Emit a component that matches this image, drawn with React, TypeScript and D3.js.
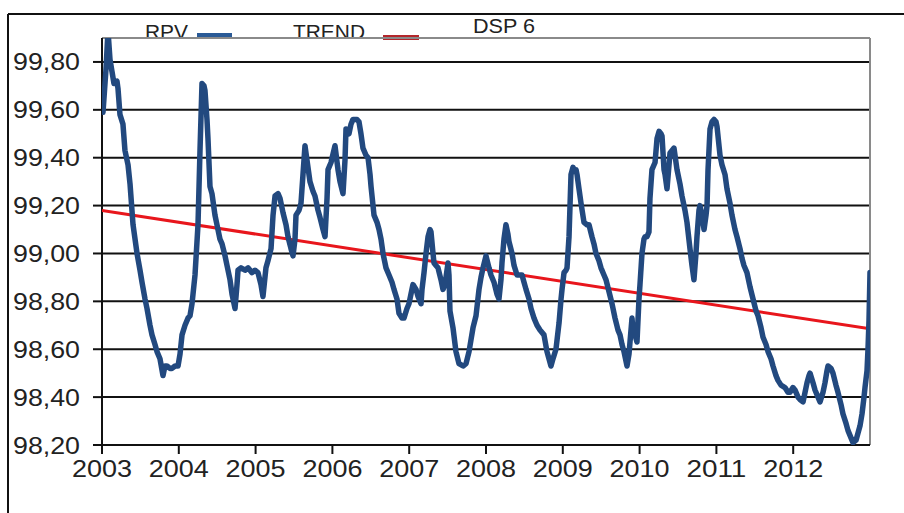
import React from "react";
import * as d3 from "d3";

// RPV series: fractional year, value
const rpvDates: number[] = [
  2003.013, 2003.052, 2003.078, 2003.104, 2003.13, 2003.156, 2003.195, 2003.208, 2003.234, 2003.273,
  2003.299, 2003.339, 2003.365, 2003.404, 2003.456, 2003.495, 2003.521, 2003.56, 2003.586, 2003.625,
  2003.651, 2003.69, 2003.716, 2003.755, 2003.794, 2003.82, 2003.846, 2003.885, 2003.911, 2003.951,
  2003.99, 2004.016, 2004.042, 2004.081, 2004.12, 2004.146, 2004.172, 2004.211, 2004.25, 2004.276,
  2004.302, 2004.328, 2004.341, 2004.367, 2004.38, 2004.406, 2004.432, 2004.471, 2004.497, 2004.536,
  2004.563, 2004.602, 2004.628, 2004.667, 2004.693, 2004.732, 2004.758, 2004.771, 2004.81, 2004.862,
  2004.901, 2004.953, 2004.992, 2005.031, 2005.07, 2005.096, 2005.135, 2005.161, 2005.201, 2005.227,
  2005.253, 2005.292, 2005.318, 2005.357, 2005.396, 2005.422, 2005.461, 2005.487, 2005.513, 2005.526,
  2005.565, 2005.591, 2005.617, 2005.643, 2005.669, 2005.708, 2005.747, 2005.773, 2005.813, 2005.839,
  2005.878, 2005.904, 2005.93, 2005.943, 2005.982, 2006.034, 2006.073, 2006.099, 2006.138, 2006.164,
  2006.177, 2006.216, 2006.242, 2006.268, 2006.294, 2006.32, 2006.346, 2006.372, 2006.398, 2006.438,
  2006.464, 2006.49, 2006.503, 2006.542, 2006.581, 2006.607, 2006.633, 2006.659, 2006.698, 2006.737,
  2006.776, 2006.802, 2006.841, 2006.867, 2006.906, 2006.932, 2006.971, 2006.997, 2007.023, 2007.049,
  2007.089, 2007.115, 2007.154, 2007.167, 2007.193, 2007.219, 2007.245, 2007.271, 2007.284, 2007.31,
  2007.323, 2007.349, 2007.375, 2007.414, 2007.44, 2007.466, 2007.505, 2007.518, 2007.531, 2007.57,
  2007.609, 2007.648, 2007.701, 2007.74, 2007.779, 2007.805, 2007.831, 2007.87, 2007.909, 2007.935,
  2007.961, 2008.0, 2008.039, 2008.065, 2008.104, 2008.143, 2008.169, 2008.195, 2008.208, 2008.234,
  2008.26, 2008.286, 2008.299, 2008.339, 2008.365, 2008.404, 2008.443, 2008.469, 2008.495, 2008.521,
  2008.56, 2008.586, 2008.625, 2008.664, 2008.703, 2008.755, 2008.794, 2008.82, 2008.846, 2008.872,
  2008.911, 2008.951, 2008.977, 2008.99, 2009.016, 2009.042, 2009.055, 2009.081, 2009.107, 2009.133,
  2009.146, 2009.172, 2009.185, 2009.211, 2009.237, 2009.276, 2009.315, 2009.341, 2009.38, 2009.406,
  2009.432, 2009.471, 2009.497, 2009.536, 2009.563, 2009.602, 2009.641, 2009.68, 2009.719, 2009.745,
  2009.771, 2009.797, 2009.836, 2009.862, 2009.875, 2009.901, 2009.914, 2009.94, 2009.966, 2009.992,
  2010.005, 2010.031, 2010.057, 2010.07, 2010.096, 2010.122, 2010.135, 2010.161, 2010.201, 2010.227,
  2010.253, 2010.279, 2010.292, 2010.318, 2010.331, 2010.357, 2010.383, 2010.396, 2010.422, 2010.448,
  2010.487, 2010.526, 2010.552, 2010.591, 2010.617, 2010.656, 2010.682, 2010.708, 2010.734, 2010.747,
  2010.773, 2010.786, 2010.813, 2010.839, 2010.865, 2010.878, 2010.891, 2010.917, 2010.943, 2010.969,
  2010.995, 2011.008, 2011.047, 2011.073, 2011.112, 2011.138, 2011.177, 2011.203, 2011.242, 2011.268,
  2011.307, 2011.333, 2011.359, 2011.398, 2011.438, 2011.477, 2011.516, 2011.542, 2011.581, 2011.607,
  2011.646, 2011.672, 2011.711, 2011.737, 2011.776, 2011.802, 2011.841, 2011.893, 2011.932, 2011.958,
  2011.997, 2012.023, 2012.063, 2012.089, 2012.128, 2012.154, 2012.18, 2012.206, 2012.219, 2012.258,
  2012.284, 2012.323, 2012.349, 2012.388, 2012.414, 2012.44, 2012.453, 2012.492, 2012.518, 2012.557,
  2012.583, 2012.622, 2012.648, 2012.688, 2012.714, 2012.753, 2012.779, 2012.818, 2012.844, 2012.87,
  2012.896, 2012.922, 2012.935, 2012.961, 2012.974, 2012.987, 2013.0,
];

const rpvValues: number[] = [
  99.59, 99.77, 99.93, 99.81, 99.76, 99.71, 99.72, 99.69, 99.58, 99.54,
  99.43, 99.37, 99.29, 99.12, 99.0, 98.93, 98.88, 98.81, 98.77, 98.7,
  98.66, 98.62, 98.59, 98.56, 98.49, 98.53, 98.53, 98.52, 98.52, 98.53,
  98.53, 98.58, 98.66, 98.7, 98.73, 98.74, 98.79, 98.91, 99.12, 99.43,
  99.71, 99.7, 99.68, 99.56, 99.48, 99.28, 99.25, 99.16, 99.12, 99.06,
  99.04, 98.99, 98.95, 98.89, 98.83, 98.77, 98.87, 98.93, 98.94, 98.93,
  98.94, 98.92, 98.93, 98.92, 98.87, 98.82, 98.94, 98.97, 99.02, 99.16,
  99.24, 99.25, 99.23, 99.17, 99.12, 99.07, 99.02, 98.99, 99.06, 99.16,
  99.18, 99.21, 99.33, 99.45, 99.39, 99.3, 99.26, 99.24, 99.18, 99.15,
  99.1, 99.07, 99.23, 99.35, 99.38, 99.45, 99.35, 99.3, 99.25, 99.39,
  99.52, 99.5, 99.54, 99.56, 99.56, 99.56, 99.55, 99.5, 99.44, 99.41,
  99.4, 99.33, 99.28, 99.16, 99.13, 99.1, 99.06, 99.0, 98.94, 98.91,
  98.88, 98.85, 98.81, 98.75, 98.73, 98.73, 98.77, 98.79, 98.83, 98.87,
  98.85, 98.82, 98.79, 98.85, 98.92, 99.0, 99.07, 99.1, 99.09, 99.0,
  98.96, 98.95, 98.94, 98.89, 98.85, 98.87, 98.96, 98.91, 98.76, 98.69,
  98.59, 98.54, 98.53, 98.54, 98.59, 98.64, 98.69, 98.74, 98.85, 98.9,
  98.94, 98.99, 98.94, 98.91, 98.88, 98.83, 98.81, 98.89, 98.96, 99.06,
  99.12, 99.08, 99.05, 99.0, 98.95, 98.91, 98.91, 98.91, 98.88, 98.85,
  98.81, 98.77, 98.73, 98.7, 98.68, 98.66, 98.59, 98.56, 98.53, 98.56,
  98.6, 98.71, 98.81, 98.85, 98.92, 98.93, 98.94, 99.07, 99.33, 99.36,
  99.35, 99.35, 99.33, 99.27, 99.21, 99.13, 99.12, 99.12, 99.07, 99.04,
  99.0, 98.97, 98.94, 98.91, 98.89, 98.84, 98.79, 98.73, 98.68, 98.66,
  98.62, 98.59, 98.53, 98.58, 98.63, 98.73, 98.68, 98.66, 98.63, 98.81,
  98.87, 99.0, 99.06, 99.07, 99.07, 99.09, 99.23, 99.35, 99.38, 99.48,
  99.51, 99.5, 99.49, 99.35, 99.33, 99.27, 99.37, 99.42, 99.43, 99.44,
  99.35, 99.29, 99.24, 99.18, 99.13, 99.02, 98.95, 98.89, 99.0, 99.07,
  99.18, 99.2, 99.16, 99.1, 99.16, 99.2, 99.35, 99.52, 99.55, 99.56,
  99.55, 99.53, 99.41, 99.37, 99.33, 99.27, 99.21, 99.16, 99.1, 99.07,
  99.02, 98.98, 98.95, 98.92, 98.86, 98.81, 98.76, 98.74, 98.69, 98.65,
  98.62, 98.59, 98.56, 98.53, 98.49, 98.47, 98.45, 98.44, 98.42, 98.42,
  98.44, 98.43, 98.4, 98.39, 98.38, 98.42, 98.46, 98.49, 98.5, 98.46,
  98.43, 98.4, 98.38, 98.42, 98.46, 98.51, 98.53, 98.52, 98.5, 98.45,
  98.42, 98.37, 98.33, 98.29, 98.26, 98.23, 98.21, 98.22, 98.25, 98.28,
  98.33, 98.4, 98.44, 98.51, 98.6, 98.72, 98.92,
];

// Linear trend (start/end)
const trendYears: number[] = [2003, 2013];
const trendValues: number[] = [99.18, 98.685];

const yTicks: number[] = [98.2, 98.4, 98.6, 98.8, 99.0, 99.2, 99.4, 99.6, 99.8];
const xTicks: number[] = [2003, 2004, 2005, 2006, 2007, 2008, 2009, 2010, 2011, 2012];
const legendLabels: string[] = ["RPV", "TREND", "DSP 6"];

const W = 904;
const H = 513;
const M = { left: 102, right: 870, top: 38, bottom: 445 };

export default function App() {
  const x = d3.scaleLinear().domain([2003, 2013]).range([M.left, M.right]);
  const y = d3.scaleLinear().domain([98.2, 99.9]).range([M.bottom, M.top]);

  const rpv = rpvDates.map((d, i) => [d, rpvValues[i]] as [number, number]);
  const trend = trendYears.map((d, i) => [d, trendValues[i]] as [number, number]);

  const line = d3
    .line<[number, number]>()
    .x((d) => x(d[0]))
    .y((d) => y(d[1]));

  const fmt = (v: number) => v.toFixed(2).replace(".", ",");
  const font = "'Liberation Sans', Arial, sans-serif";

  return (
    <svg
      width={W}
      height={H}
      style={{ position: "absolute", left: 0, top: 0, background: "#fff" }}
    >
      <defs>
        <clipPath id="plotclip">
          <rect x={M.left} y={M.top} width={M.right - M.left} height={M.bottom - M.top} />
        </clipPath>
      </defs>
      <rect x={0} y={0} width={W} height={H} fill="#fff" />
      {/* outer frame */}
      <line x1={8} y1={14} x2={W} y2={14} stroke="#111" strokeWidth={2} />
      <line x1={8} y1={14} x2={8} y2={H} stroke="#111" strokeWidth={2} />

      {/* legend */}
      <text x={145} y={39} fontFamily={font} fontSize={20} fill="#222" textLength={43} lengthAdjust="spacingAndGlyphs">
        {legendLabels[0]}
      </text>
      <rect x={197} y={33} width={35} height={5} fill="#2a5a96" />
      <text x={293} y={39} fontFamily={font} fontSize={20} fill="#222" textLength={72} lengthAdjust="spacingAndGlyphs">
        {legendLabels[1]}
      </text>
      <rect x={383} y={35} width={36} height={5} fill="#b3262b" />
      <text x={473} y={33} fontFamily={font} fontSize={20} fill="#222" textLength={62} lengthAdjust="spacingAndGlyphs">
        {legendLabels[2]}
      </text>

      {/* gridlines */}
      {yTicks.slice(1).map((t) => (
        <line key={"g" + t} x1={M.left} x2={M.right} y1={y(t)} y2={y(t)} stroke="#111" strokeWidth={2} />
      ))}
      {/* plot border top/right */}
      <line x1={M.left} x2={M.right} y1={M.top} y2={M.top} stroke="#8a8a8a" strokeWidth={2} />
      <line x1={M.right} x2={M.right} y1={M.top} y2={M.bottom} stroke="#8a8a8a" strokeWidth={2} />

      {/* y axis */}
      <line x1={M.left} x2={M.left} y1={M.top} y2={M.bottom} stroke="#111" strokeWidth={2} />
      {yTicks.map((t) => (
        <g key={"y" + t}>
          <line x1={M.left - 9} x2={M.left} y1={y(t)} y2={y(t)} stroke="#111" strokeWidth={2} />
          <text
            x={80}
            y={y(t) + 8.5}
            textAnchor="end"
            fontFamily={font}
            fontSize={23}
            fill="#222"
            textLength={67}
            lengthAdjust="spacingAndGlyphs"
          >
            {fmt(t)}
          </text>
        </g>
      ))}

      {/* x axis */}
      <line x1={M.left} x2={M.right} y1={M.bottom} y2={M.bottom} stroke="#111" strokeWidth={2} />
      {xTicks.map((t) => (
        <g key={"x" + t}>
          <line x1={x(t)} x2={x(t)} y1={M.bottom} y2={M.bottom + 9} stroke="#111" strokeWidth={2} />
          <text
            x={x(t) - 30}
            y={477}
            fontFamily={font}
            fontSize={24}
            fill="#222"
            textLength={60}
            lengthAdjust="spacingAndGlyphs"
          >
            {String(t)}
          </text>
        </g>
      ))}

      {/* series */}
      <g clipPath="url(#plotclip)">
        <path d={line(trend) ?? ""} fill="none" stroke="#e8161c" strokeWidth={3} />
        <path
          d={line(rpv) ?? ""}
          fill="none"
          stroke="#22497f"
          strokeWidth={5.5}
          strokeLinejoin="round"
          strokeLinecap="round"
        />
      </g>
    </svg>
  );
}
